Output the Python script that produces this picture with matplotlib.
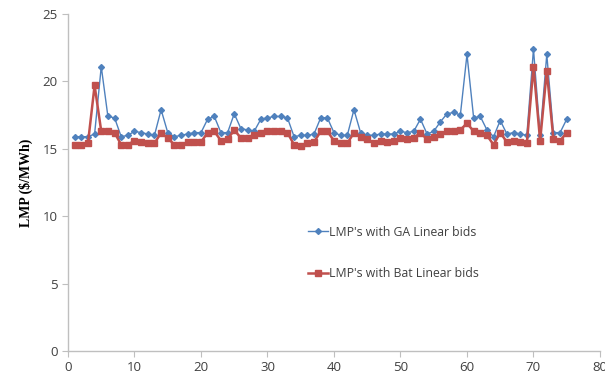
import matplotlib.pyplot as plt

plt.rcParams["font.family"] = ["Open Sans", "DejaVu Sans"]

hours = list(range(1, 76))
ga_lmp = [15.9, 15.9, 15.9, 16.1, 21.1, 17.4, 17.3, 15.9, 16.0, 16.3,
          16.2, 16.1, 16.0, 17.9, 16.2, 15.9, 16.0, 16.1, 16.2, 16.2,
          17.2, 17.4, 16.2, 16.2, 17.6, 16.5, 16.4, 16.3, 17.2, 17.3,
          17.4, 17.4, 17.3, 15.9, 16.0, 16.0, 16.1, 17.3, 17.3, 16.2,
          16.0, 16.0, 17.9, 16.2, 16.0, 16.0, 16.1, 16.1, 16.1, 16.3,
          16.2, 16.3, 17.2, 16.1, 16.3, 17.0, 17.6, 17.7, 17.5, 22.0,
          17.3, 17.4, 16.4, 15.9, 17.1, 16.1, 16.2, 16.1, 16.0, 22.4,
          16.0, 22.0, 16.2, 16.2, 17.2]
bat_lmp = [15.3, 15.3, 15.4, 19.7, 16.3, 16.3, 16.2, 15.3, 15.3, 15.6,
           15.5, 15.4, 15.4, 16.2, 15.8, 15.3, 15.3, 15.5, 15.5, 15.5,
           16.2, 16.3, 15.6, 15.7, 16.4, 15.8, 15.8, 16.0, 16.2, 16.3,
           16.3, 16.3, 16.2, 15.3, 15.2, 15.4, 15.5, 16.3, 16.3, 15.6,
           15.4, 15.4, 16.2, 15.9, 15.7, 15.4, 15.6, 15.5, 15.6, 15.8,
           15.7, 15.8, 16.2, 15.7, 15.9, 16.1, 16.3, 16.3, 16.4, 16.9,
           16.3, 16.2, 16.0, 15.3, 16.2, 15.5, 15.6, 15.5, 15.4, 21.1,
           15.6, 20.8, 15.7, 15.6, 16.2]

C_BLUE = "#4F81BD"
C_RED = "#C0504D"
C_AXIS = "#BFBFBF"
C_TEXT = "#404040"

fig = plt.figure(figsize=(6.05, 3.87), dpi=100)
ax = fig.add_axes([0.1124, 0.093, 0.8793, 0.8708])

ax.plot(hours, ga_lmp, color=C_BLUE, lw=1.0, marker="D", ms=3.0,
        mfc=C_BLUE, mec=C_BLUE, label="LMP's with GA Linear bids")
ax.plot(hours, bat_lmp, color=C_RED, lw=1.8, marker="s", ms=4.2,
        mfc=C_RED, mec=C_RED, label="LMP's with Bat Linear bids")

ax.set_xlim(0, 80)
ax.set_ylim(0, 25)
ax.set_xticks(range(0, 81, 10))
ax.set_yticks(range(0, 26, 5))

for side in ("top", "right"):
    ax.spines[side].set_visible(False)
for side in ("left", "bottom"):
    ax.spines[side].set_color(C_AXIS)
    ax.spines[side].set_linewidth(1.0)
ax.tick_params(axis="both", colors=C_AXIS, labelcolor=C_TEXT,
               labelsize=9.5, length=4, direction="out")

ax.set_ylabel("LMP (\\$/MWh)", fontsize=10, fontweight="bold",
              family="Liberation Serif", color="black", labelpad=7)

leg = ax.legend(loc="upper left", bbox_to_anchor=(0.44, 0.39), frameon=False,
                fontsize=8.8, labelspacing=2.3, handlelength=1.6,
                handletextpad=0.1, borderpad=0)
for t in leg.get_texts():
    t.set_color(C_TEXT)

plt.savefig("out.png", dpi=100, facecolor="white")
plt.close()
